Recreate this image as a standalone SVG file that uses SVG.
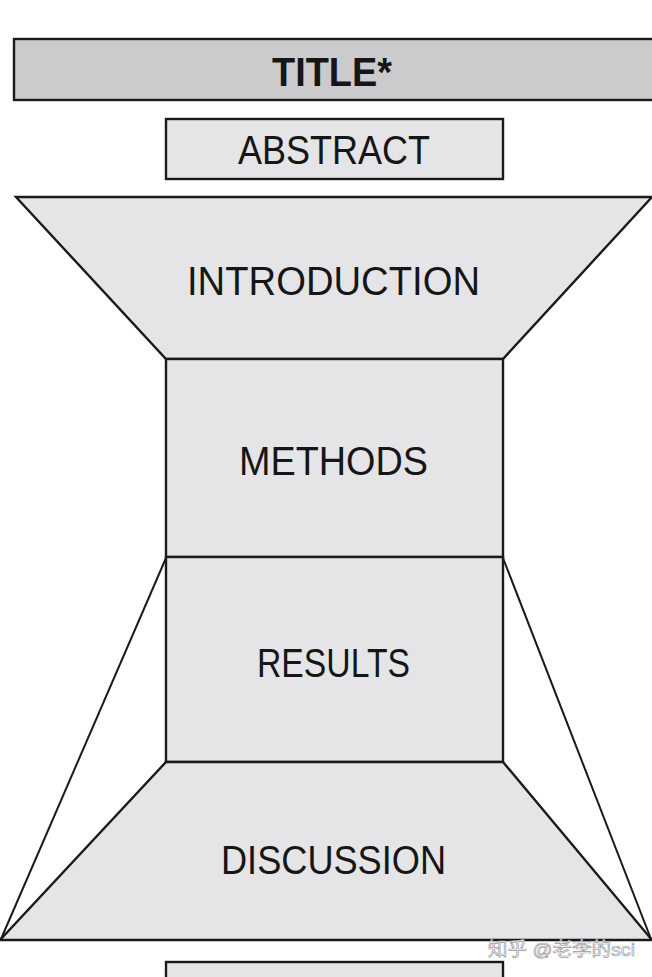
<svg xmlns="http://www.w3.org/2000/svg" width="652" height="977" viewBox="0 0 652 977">
  <style>
    .box { fill: #e5e5e7; stroke: #1a1a1a; stroke-width: 2.4; stroke-linejoin: miter; }
    .title { fill: #cbcbcd; stroke: #1a1a1a; stroke-width: 2.4; }
    .lbl { font-family: "Liberation Sans", Arial, sans-serif; font-size: 40px; fill: #161616; text-anchor: middle; }
    .bold { font-weight: bold; }
    .conn { stroke: #1a1a1a; stroke-width: 2; fill: none; }
    .wm { font-family: "Liberation Sans", "Noto Sans CJK SC", sans-serif; font-size: 19px; fill: #ffffff; stroke: #9a9a9a; stroke-width: 0.7; }
  </style>
  <rect x="0" y="0" width="652" height="977" fill="#ffffff"/>

  <g id="connectors">
    <line class="conn" x1="166" y1="558" x2="1" y2="939"/>
    <line class="conn" x1="503" y1="558" x2="651" y2="939"/>
  </g>

  <g id="title">
    <rect class="title" x="14" y="39" width="650" height="61"/>
    <text class="lbl bold" x="332" y="86" textLength="120" lengthAdjust="spacingAndGlyphs">TITLE*</text>
  </g>

  <g id="abstract">
    <rect class="box" x="166" y="119" width="337" height="60"/>
    <text class="lbl" x="334" y="164" textLength="192" lengthAdjust="spacingAndGlyphs">ABSTRACT</text>
  </g>

  <g id="introduction">
    <polygon class="box" points="16,197 652,197 503,359 166,359"/>
    <text class="lbl" x="333.5" y="295" textLength="293" lengthAdjust="spacingAndGlyphs">INTRODUCTION</text>
  </g>

  <g id="methods">
    <rect class="box" x="166" y="359" width="337" height="198"/>
    <text class="lbl" x="333.5" y="475" textLength="189" lengthAdjust="spacingAndGlyphs">METHODS</text>
  </g>

  <g id="results">
    <rect class="box" x="166" y="557" width="337" height="205"/>
    <text class="lbl" x="333.5" y="677" textLength="153" lengthAdjust="spacingAndGlyphs">RESULTS</text>
  </g>

  <g id="discussion">
    <polygon class="box" points="166,762 503,762 652,940 0,940"/>
    <text class="lbl" x="333.5" y="874" textLength="225" lengthAdjust="spacingAndGlyphs">DISCUSSION</text>
  </g>

  <g id="bottom-box">
    <rect class="box" x="166" y="962" width="337" height="40"/>
  </g>

  <text class="wm" x="488" y="956" textLength="147" lengthAdjust="spacingAndGlyphs">知乎 @老李的sci</text>
</svg>
